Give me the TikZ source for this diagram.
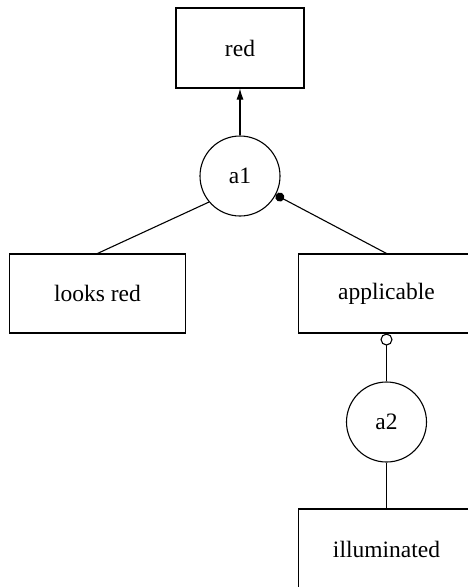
\documentclass[tikz,border=0pt]{standalone}
\usepackage{fontspec}
\setmainfont{Liberation Serif}
\usetikzlibrary{arrows.meta}
\begin{document}
\begin{tikzpicture}[x=1pt,y=-1pt,
  lbl/.style={font=\fontsize{23.5}{28}\selectfont},
  claim/.style={lbl, draw, line width=1.1pt, rectangle, minimum width=176pt, minimum height=79pt, inner sep=0pt},
  argnode/.style={lbl, draw, line width=1.1pt, circle, minimum size=80pt, inner sep=0pt},
  link/.style={line width=1.1pt}]
\useasboundingbox (0,0) rectangle (467,587);

% claims (the two right-hand boxes run past the right margin)
\node[claim, minimum width=128pt, minimum height=80pt] (red) at (240,48) {red};
\node[claim] (looks) at (97.5,293.5) {looks red};
\node[claim] (appl) at (386.5,293.5) {applicable};
\node[claim, minimum height=80pt] (illum) at (386.5,549) {illuminated};

% arguments
\node[argnode] (a1) at (240,176) {a1};
\node[argnode] (a2) at (386.5,422) {a2};

% support and attack links
\draw[link, -{Latex[length=11pt,width=7pt]}] (a1.north) -- (red.south);
\draw[link] (looks.north) -- (a1.-140);
\draw[link, -{Circle[length=9pt]}] (appl.north) -- (a1);
\draw[link, {Circle[open,length=12pt,fill=white]}-] (appl.south) -- (a2.north);
\draw[link] (a2.south) -- (illum.north);
\end{tikzpicture}
\end{document}
